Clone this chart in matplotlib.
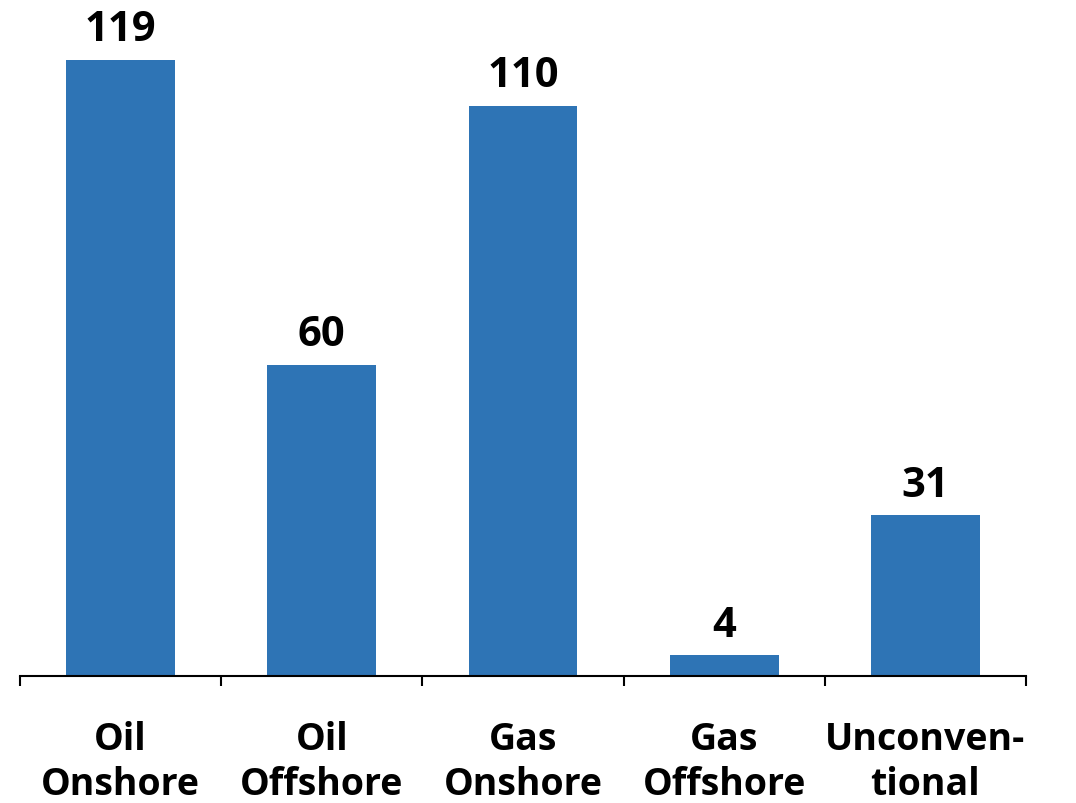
import matplotlib
matplotlib.use("Agg")
import matplotlib.pyplot as plt
import numpy as np

categories = ["Oil\nOnshore", "Oil\nOffshore", "Gas\nOnshore", "Gas\nOffshore", "Unconven-\ntional"]
values = [119, 60, 110, 4, 31]

plt.rcParams['font.family'] = ['Open Sans', 'DejaVu Sans']

fig = plt.figure(figsize=(10.76, 8.04), dpi=100)
W, H = 1076, 804
ax = fig.add_axes([20 / W, 127 / H, (1026 - 20) / W, 647.5 / H])

x = np.arange(len(categories))
bars = ax.bar(x, values, width=0.54, color='#2E74B5')
ax.set_xlim(-0.5, len(categories) - 0.5)
ax.set_ylim(0, 125)

for xi, v in zip(x, values):
    ax.annotate(str(v), (xi, v), xytext=(0, 7), textcoords='offset points',
                ha='center', va='bottom', fontsize=30, fontweight='bold', color='black')

for s in ['top', 'right', 'left']:
    ax.spines[s].set_visible(False)
ax.spines['bottom'].set_linewidth(1.5)
ax.yaxis.set_visible(False)

ax.set_xticks(np.arange(len(categories) + 1) - 0.5)
ax.set_xticklabels([])
ax.tick_params(axis='x', which='major', length=7, width=1.5, direction='out')
ax.set_xticks(x, minor=True)
ax.set_xticklabels(categories, minor=True, fontsize=27, fontweight='bold', linespacing=1.22)
ax.tick_params(axis='x', which='minor', length=0, pad=32)

fig.savefig('out.png', dpi=100)
